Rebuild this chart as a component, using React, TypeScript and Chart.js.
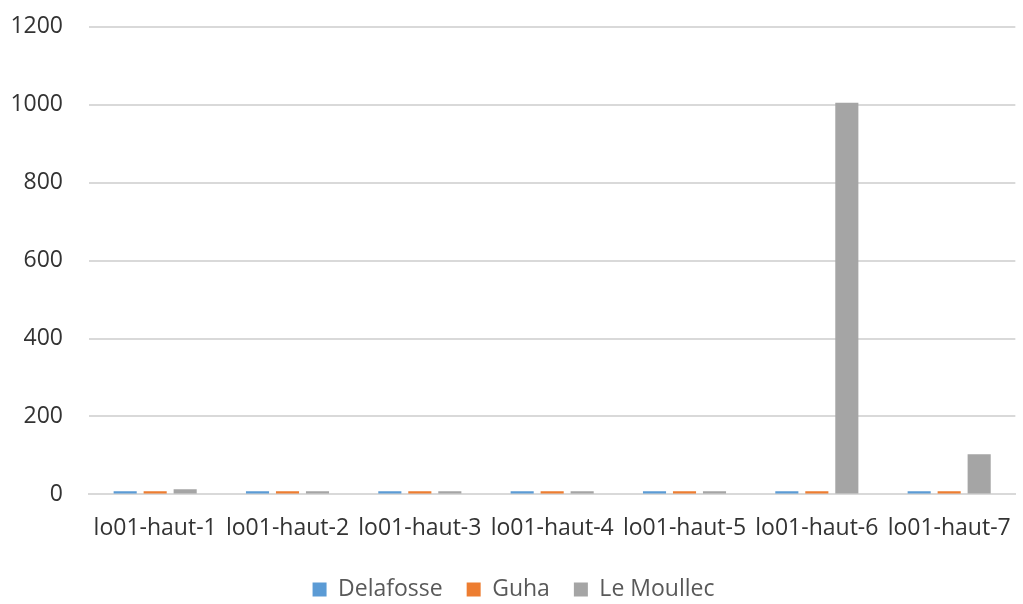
import React, { useEffect, useRef } from "react";
import { Chart, registerables } from "chart.js";

Chart.register(...registerables);

const categories = ["lo01-haut-1", "lo01-haut-2", "lo01-haut-3", "lo01-haut-4", "lo01-haut-5", "lo01-haut-6", "lo01-haut-7"];
const delafosse = [8, 8, 8, 8, 8, 8, 8];
const guha = [8, 8, 8, 8, 8, 8, 8];
const leMoullec = [13, 8, 8, 8, 8, 1005, 103];

const FONT = "'Open Sans', 'Liberation Sans', sans-serif";

export default function App() {
  const ref = useRef<HTMLCanvasElement>(null);
  useEffect(() => {
    if (!ref.current) return;
    const chart = new Chart(ref.current, {
      type: "bar",
      data: {
        labels: categories,
        datasets: [
          { label: "Delafosse", data: delafosse, backgroundColor: "#5b9bd5" },
          { label: "Guha", data: guha, backgroundColor: "#ed7d31" },
          { label: "Le Moullec", data: leMoullec, backgroundColor: "#a5a5a5" },
        ],
      },
      options: {
        animation: false,
        responsive: false,
        maintainAspectRatio: false,
        layout: { padding: { top: 4, right: 4, left: 8, bottom: 2 } },
        datasets: { bar: { categoryPercentage: 0.68, barPercentage: 0.77 } },
        plugins: {
          legend: {
            position: "bottom",
            labels: {
              font: { family: FONT, size: 23 },
              color: "#595959",
              boxWidth: 14,
              boxHeight: 14,
              padding: 24,
            },
          },
          tooltip: { enabled: false },
        },
        scales: {
          x: {
            grid: { display: false },
            border: { display: true, color: "#d9d9d9", width: 2 },
            ticks: { font: { family: FONT, size: 23 }, color: "#333333", maxRotation: 0, autoSkip: false, padding: 12 },
          },
          y: {
            min: 0,
            max: 1200,
            afterFit: (s: any) => {
              s.width = 81;
            },
            ticks: {
              stepSize: 200,
              font: { family: FONT, size: 23 },
              color: "#333333",
              padding: 26,
              callback: (v: any) => String(v),
            },
            grid: { color: "#d9d9d9", lineWidth: 2, drawTicks: false },
            border: { display: false },
          },
        },
      },
    });
    return () => chart.destroy();
  }, []);
  return (
    <div style={{ position: "fixed", left: 0, top: 0, width: 1023, height: 604, overflow: "hidden", background: "#fff" }}>
      <canvas ref={ref} width={1023} height={626} style={{ display: "block", marginTop: -13 }} />
    </div>
  );
}
